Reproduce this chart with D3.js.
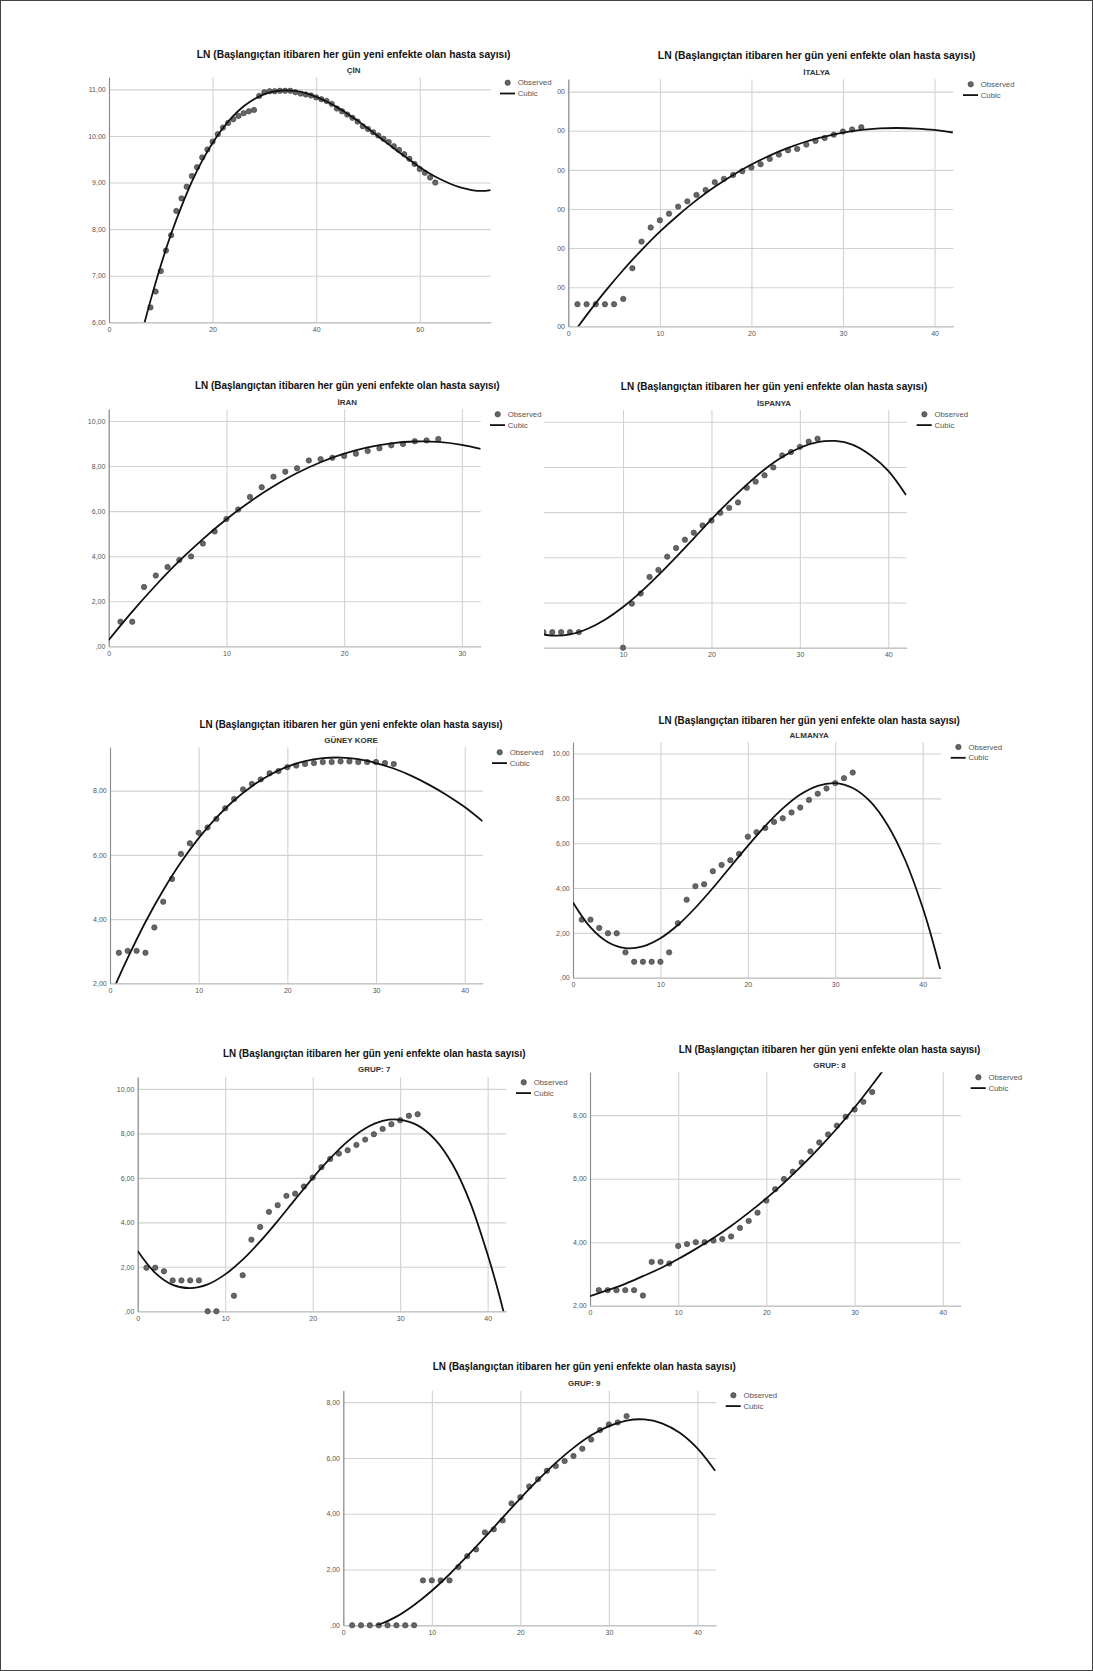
<!DOCTYPE html>
<html>
<head>
<meta charset="utf-8">
<script src="https://cdn.jsdelivr.net/npm/d3@7"></script>
<style>
  body { margin: 0; background: #fff; }
  text { font-family: "Liberation Sans", Arial, sans-serif; }
</style>
</head>
<body>
<svg id="chart" width="1093" height="1671"></svg>
<script>
var titleText = 'LN (Başlangıçtan itibaren her gün yeni enfekte olan hasta sayısı)';
var seriesNames = ['Observed', 'Cubic'];

// observed values, one per day starting at *Start (null = no case that day)
var cinStart = 8;
var cinObserved = [6.32,6.66,7.10,7.54,7.87,8.39,8.66,8.91,9.14,9.33,9.54,9.71,9.88,10.04,10.18,10.28,10.36,10.43,10.49,10.53,10.56,10.86,10.94,10.96,10.96,10.97,10.97,10.97,10.94,10.91,10.89,10.87,10.83,10.79,10.75,10.69,10.59,10.53,10.46,10.39,10.31,10.21,10.15,10.08,10.01,9.94,9.87,9.78,9.70,9.61,9.51,9.40,9.29,9.21,9.11,9.00];
var italyObserved = [1.13,1.13,1.13,1.13,1.13,1.40,2.97,4.33,5.05,5.42,5.76,6.12,6.39,6.72,6.97,7.37,7.54,7.74,7.93,8.12,8.29,8.56,8.78,9.00,9.07,9.29,9.48,9.63,9.80,9.96,10.06,10.18];
var iranObserved = [1.09,1.09,2.63,3.14,3.52,3.83,3.99,4.56,5.10,5.65,6.07,6.63,7.06,7.53,7.75,7.90,8.25,8.31,8.37,8.45,8.55,8.67,8.79,8.92,8.98,9.10,9.14,9.20];
var spainObserved = [0.69,0.69,0.69,0.69,0.69,null,null,null,null,0,1.95,2.40,3.13,3.44,4.03,4.41,4.78,5.09,5.41,5.63,5.97,6.19,6.43,7.08,7.35,7.63,7.98,8.51,8.66,8.89,9.12,9.25];
var koreObserved = [2.95,3.01,3.01,2.95,3.74,4.54,5.25,6.03,6.36,6.69,6.85,7.12,7.45,7.74,8.04,8.21,8.35,8.54,8.61,8.73,8.78,8.83,8.86,8.89,8.89,8.91,8.91,8.89,8.89,8.89,8.86,8.83];
var almanyaObserved = [2.59,2.59,2.22,1.98,1.98,1.13,0.71,0.71,0.71,0.71,1.13,2.43,3.48,4.08,4.17,4.75,5.03,5.24,5.52,6.29,6.49,6.68,6.95,7.11,7.37,7.59,7.93,8.21,8.44,8.68,8.90,9.15];
var grup7Observed = [1.96,1.96,1.80,1.39,1.39,1.39,1.39,0,0,null,0.70,1.62,3.22,3.79,4.47,4.77,5.19,5.29,5.61,6.01,6.48,6.85,7.09,7.24,7.48,7.72,7.96,8.20,8.41,8.59,8.79,8.86];
var grup8Observed = [2.49,2.49,2.49,2.49,2.49,2.32,3.38,3.38,3.33,3.88,3.94,4.00,4.00,4.05,4.10,4.18,4.45,4.67,4.93,5.31,5.67,5.99,6.22,6.51,6.86,7.14,7.39,7.67,7.95,8.18,8.42,8.73];
var grup9Observed = [0,0,0,0,0,0,0,0,1.61,1.61,1.61,1.61,2.09,2.48,2.72,3.33,3.44,3.76,4.37,4.59,4.98,5.24,5.54,5.71,5.89,6.07,6.33,6.66,7.00,7.20,7.27,7.50];

// cubic fit lines as [day, value]
var cinCubic = [[6.5,5.84],[8,6.46],[10,7.22],[12,7.90],[14,8.49],[16,9.02],[18,9.47],[20,9.85],[22,10.17],[24,10.43],[26,10.64],[28,10.79],[30,10.90],[32,10.96],[34,10.98],[36,10.97],[38,10.92],[40,10.84],[42,10.74],[44,10.62],[46,10.48],[48,10.33],[50,10.16],[52,9.99],[54,9.82],[56,9.65],[58,9.49],[60,9.33],[62,9.19],[64,9.07],[66,8.97],[68,8.89],[70,8.84],[72,8.82],[73.7,8.84]];
var italyCubic = [[0,-0.73],[1.1,0],[2,0.57],[4,1.77],[6,2.88],[8,3.90],[10,4.84],[12,5.68],[14,6.45],[16,7.13],[18,7.74],[20,8.27],[22,8.73],[24,9.12],[26,9.45],[28,9.70],[30,9.90],[32,10.04],[34,10.12],[36,10.14],[38,10.11],[40,10.04],[42,9.91]];
var iranCubic = [[0,0.28],[2,1.54],[4,2.71],[6,3.79],[8,4.76],[10,5.64],[12,6.42],[14,7.10],[16,7.69],[18,8.17],[20,8.55],[22,8.83],[24,9.01],[26,9.09],[28,9.07],[30,8.94],[31.6,8.76]];
var spainCubic = [[0,0.71],[1,0.59],[2,0.54],[4,0.59],[6,0.84],[8,1.25],[10,1.80],[12,2.46],[14,3.21],[16,4.01],[18,4.84],[20,5.68],[22,6.48],[24,7.22],[26,7.89],[28,8.44],[30,8.85],[32,9.10],[34,9.15],[36,8.98],[38,8.52],[40,7.83],[42,6.76]];
var koreCubic = [[0,1.55],[1,2.19],[2,2.79],[4,3.91],[6,4.90],[8,5.77],[10,6.52],[12,7.16],[14,7.70],[16,8.14],[18,8.49],[20,8.75],[22,8.92],[24,9.01],[26,9.03],[28,8.98],[30,8.86],[32,8.69],[34,8.46],[36,8.18],[38,7.86],[40,7.49],[42,7.05]];
var almanyaCubic = [[0,3.35],[2,2.24],[4,1.58],[6,1.32],[8,1.40],[10,1.76],[12,2.35],[14,3.12],[16,4.00],[18,4.94],[20,5.88],[22,6.77],[24,7.55],[26,8.17],[28,8.56],[30,8.68],[32,8.46],[34,7.86],[36,6.80],[38,5.25],[40,3.13],[41,1.84],[42,0.39]];
var grup7Cubic = [[0,2.71],[2,1.73],[4,1.19],[6,1.04],[8,1.21],[10,1.66],[12,2.32],[14,3.14],[16,4.06],[18,5.03],[20,5.99],[22,6.87],[24,7.64],[26,8.22],[28,8.56],[30,8.61],[32,8.36],[34,7.72],[36,6.60],[38,4.90],[40,2.55],[41,1.20],[42,-0.30]];
var grup8Cubic = [[0,2.30],[2,2.49],[4,2.69],[6,2.93],[8,3.18],[10,3.47],[12,3.79],[14,4.13],[16,4.51],[18,4.93],[20,5.38],[22,5.87],[24,6.40],[26,6.97],[28,7.58],[30,8.24],[32,8.95],[34,9.70]];
var grup9Cubic = [[2,-0.13],[4,0.02],[6,0.31],[8,0.73],[10,1.24],[12,1.83],[14,2.48],[16,3.16],[18,3.86],[20,4.55],[22,5.21],[24,5.82],[26,6.36],[28,6.81],[30,7.14],[32,7.34],[34,7.38],[36,7.24],[38,6.90],[40,6.34],[42,5.54]];

// tick values
var ticks10 = [0, 10, 20, 30, 40];
var cinXTicks = [0, 20, 40, 60];
var iranXTicks = [0, 10, 20, 30];
var cinYTicks = [6, 7, 8, 9, 10, 11];
var italyYTicks = [0, 2, 4, 6, 8, 10, 12];
var ticks0to10 = [0, 2, 4, 6, 8, 10];
var ticks2to8 = [2, 4, 6, 8];
var ticks0to8 = [0, 2, 4, 6, 8];

// layout of the nine pasted panels
var panels = [
  {sub: 'ÇİN', obs: cinObserved, start: cinStart, cubic: cinCubic, xMax: 73.7, xRange: [109, 490.7], yDomain: [6, 11.26], yRange: [322.3, 77.3], xTicks: cinXTicks, yTicks: cinYTicks, title: [353.7, 54, 314], subY: 70.7, legend: [500, 82.7]},
  {sub: 'İTALYA', obs: italyObserved, start: 1, cubic: italyCubic, xMax: 42.05, xRange: [568.3, 953.3], yDomain: [0, 12.63], yRange: [326.3, 79.3], xTicks: ticks10, yTicks: italyYTicks, title: [816.7, 55, 318], subY: 72.7, legend: [963, 84.3], cropLeft: 556.9},
  {sub: 'İRAN', obs: iranObserved, start: 1, cubic: iranCubic, xMax: 31.6, xRange: [108.7, 480.7], yDomain: [0, 10.52], yRange: [646.3, 409.3], xTicks: iranXTicks, yTicks: ticks0to10, title: [347.3, 385, 305], subY: 402.3, legend: [490, 414.3]},
  {sub: 'İSPANYA', obs: spainObserved, start: 1, cubic: spainCubic, xMax: 42.08, xRange: [534.6, 906.7], yDomain: [0, 10.52], yRange: [647.7, 410], xTicks: ticks10, yTicks: ticks0to10, title: [774, 386, 306.7], subY: 403.3, legend: [916.7, 414.3], cropLeft: 544},
  {sub: 'GÜNEY KORE', obs: koreObserved, start: 1, cubic: koreCubic, xMax: 42.03, xRange: [110, 482.7], yDomain: [2, 9.35], yRange: [983.3, 747.3], xTicks: ticks10, yTicks: ticks2to8, title: [351, 724, 303.3], subY: 740.7, legend: [492, 752.3]},
  {sub: 'ALMANYA', obs: almanyaObserved, start: 1, cubic: almanyaCubic, xMax: 42.1, xRange: [573, 941], yDomain: [0, 10.5], yRange: [977.7, 742.3], xTicks: ticks10, yTicks: ticks0to10, title: [809.2, 719.3, 301.7], subY: 735.7, legend: [950.7, 747]},
  {sub: 'GRUP: 7', obs: grup7Observed, start: 1, cubic: grup7Cubic, xMax: 42.1, xRange: [137.7, 506], yDomain: [0, 10.52], yRange: [1311.3, 1077.3], xTicks: ticks10, yTicks: ticks0to10, title: [374.2, 1052.3, 303], subY: 1069.3, legend: [516, 1082.3]},
  {sub: 'GRUP: 8', obs: grup8Observed, start: 1, cubic: grup8Cubic, xMax: 42.04, xRange: [590, 960.7], yDomain: [2, 9.35], yRange: [1305.7, 1072.3], xTicks: ticks10, yTicks: ticks2to8, title: [829.5, 1048.3, 302.3], subY: 1065, legend: [970.7, 1077.3]},
  {sub: 'GRUP: 9', obs: grup9Observed, start: 1, cubic: grup9Cubic, xMax: 42.1, xRange: [343.3, 716], yDomain: [0, 8.41], yRange: [1625.3, 1390.7], xTicks: ticks10, yTicks: ticks0to8, title: [584.3, 1366, 303.3], subY: 1383.3, legend: [725.7, 1395.3]}
];

var svg = d3.select('#chart');

svg.append('rect')
    .attr('x', 0.5).attr('y', 0.5)
    .attr('width', 1092).attr('height', 1670)
    .attr('fill', '#fff')
    .attr('stroke', '#444');

// SPSS style: 2,00 / ,00
var spssFormat = function(v) {
  var s = d3.format('.2f')(v).replace('.', ',');
  return s.indexOf('0,') === 0 ? s.slice(1) : s;
};

var defs = svg.append('defs');
var labelPad = 3.3;

panels.forEach(function(p, i) {
  var g = svg.append('g').attr('class', 'panel');
  if (p.cropLeft) {
    defs.append('clipPath').attr('id', 'crop' + i)
      .append('rect')
        .attr('x', p.cropLeft).attr('y', 0)
        .attr('width', 1093).attr('height', 1671);
    g.attr('clip-path', 'url(#crop' + i + ')');
  }

  var x = d3.scaleLinear().domain([0, p.xMax]).range(p.xRange);
  var y = d3.scaleLinear().domain(p.yDomain).range(p.yRange);
  var plotH = p.yRange[0] - p.yRange[1];
  var plotW = p.xRange[1] - p.xRange[0];

  var xAxis = g.append('g')
      .attr('transform', 'translate(0,' + p.yRange[0] + ')')
      .call(d3.axisBottom(x)
        .tickValues(p.xTicks)
        .tickSize(-plotH)
        .tickSizeOuter(0)
        .tickPadding(4.5)
        .tickFormat(d3.format('d')));

  var yAxis = g.append('g')
      .attr('transform', 'translate(' + p.xRange[0] + ',0)')
      .call(d3.axisLeft(y)
        .tickValues(p.yTicks)
        .tickSize(-plotW)
        .tickSizeOuter(0)
        .tickPadding(labelPad)
        .tickFormat(spssFormat));

  [xAxis, yAxis].forEach(function(a) {
    a.selectAll('.tick line').attr('stroke', '#d2d2d2').attr('stroke-width', 1.1);
    a.selectAll('.tick text')
      .attr('fill', '#555')
      .style('font-size', '7px')
      .style('font-family', '"Liberation Sans", Arial, sans-serif');
    a.select('.domain').attr('stroke', '#8a8a8a').attr('stroke-width', 1.1).raise();
  });

  // labels lying wholly outside the cropped screenshot are not seen at all
  if (p.cropLeft && p.xRange[0] - labelPad < p.cropLeft) {
    yAxis.selectAll('.tick text').remove();
  }

  // observed points
  var pts = p.obs
    .map(function(v, k) { return {day: p.start + k, v: v}; })
    .filter(function(d) { return d.v !== null; });

  g.append('g').selectAll('circle')
    .data(pts)
    .join('circle')
      .attr('cx', function(d) { return x(d.day); })
      .attr('cy', function(d) { return y(d.v); })
      .attr('r', 2.7)
      .attr('fill', '#666')
      .attr('stroke', '#3c3c3c')
      .attr('stroke-width', 0.6);

  // cubic line, clipped to the plot area
  defs.append('clipPath').attr('id', 'plot' + i)
    .append('rect')
      .attr('x', p.xRange[0]).attr('y', p.yRange[1])
      .attr('width', plotW).attr('height', plotH);

  var line = d3.line()
    .x(function(d) { return x(d[0]); })
    .y(function(d) { return y(d[1]); })
    .curve(d3.curveCatmullRom.alpha(0.5));

  g.append('path')
    .datum(p.cubic)
    .attr('clip-path', 'url(#plot' + i + ')')
    .attr('d', line)
    .attr('fill', 'none')
    .attr('stroke', '#111')
    .attr('stroke-width', 1.8);

  // title, squeezed horizontally to the width of the pasted screenshot
  var t = g.append('text')
    .attr('x', 0).attr('y', 0)
    .attr('text-anchor', 'middle')
    .attr('dominant-baseline', 'central')
    .style('font-size', '11.5px')
    .style('font-weight', 'bold')
    .attr('fill', '#111')
    .text(titleText);
  var k = p.title[2] / t.node().getComputedTextLength();
  t.attr('transform', 'translate(' + p.title[0] + ',' + p.title[1] + ') scale(' + k + ',1)');

  g.append('text')
    .attr('x', p.title[0]).attr('y', p.subY)
    .attr('text-anchor', 'middle')
    .attr('dominant-baseline', 'central')
    .style('font-size', '8px')
    .style('font-weight', 'bold')
    .attr('fill', '#333')
    .text(p.sub);

  // legend
  var lg = svg.append('g').attr('transform', 'translate(' + p.legend[0] + ',' + p.legend[1] + ')');
  lg.append('circle')
    .attr('cx', 7.7).attr('cy', 0).attr('r', 2.7)
    .attr('fill', '#666').attr('stroke', '#3c3c3c').attr('stroke-width', 0.6);
  lg.append('line')
    .attr('x1', 0).attr('x2', 15)
    .attr('y1', 10.8).attr('y2', 10.8)
    .attr('stroke', '#111').attr('stroke-width', 1.8);
  lg.selectAll('text')
    .data(seriesNames)
    .join('text')
      .attr('x', 17.7)
      .attr('y', function(d, j) { return j * 10.8; })
      .attr('dominant-baseline', 'central')
      .attr('fill', '#555')
      .style('font-size', '7.8px')
      .text(function(d) { return d; });
});
</script>
</body>
</html>
